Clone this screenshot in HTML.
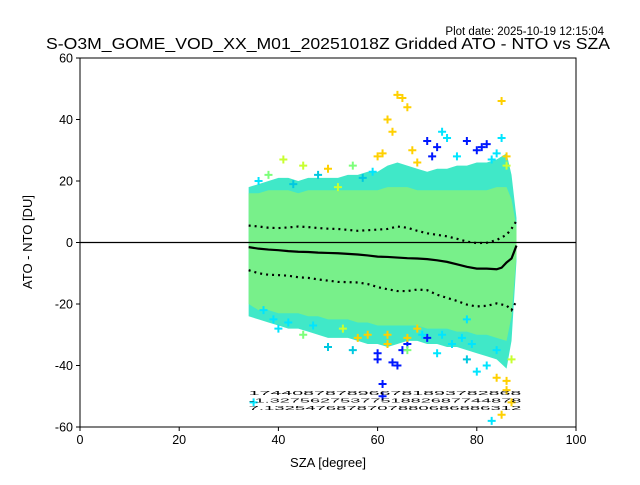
<!DOCTYPE html>
<html><head><meta charset="utf-8"><style>
body{margin:0;background:#fff;}
svg{font-family:"Liberation Sans","DejaVu Sans",sans-serif;}
</style></head><body>
<svg id="chart" width="640" height="480" viewBox="0 0 640 480">
<rect width="640" height="480" fill="#fff"/>
<text x="604" y="35" text-anchor="end" font-size="11.5">Plot date: 2025-10-19 12:15:04</text>
<text x="46" y="49" font-size="15.5" textLength="564" lengthAdjust="spacingAndGlyphs">S-O3M_GOME_VOD_XX_M01_20251018Z Gridded ATO - NTO vs SZA</text>
<g id="plot"></g>
<text x="328" y="467" text-anchor="middle" font-size="13">SZA [degree]</text>
<text transform="translate(32,242) rotate(-90)" text-anchor="middle" font-size="13">ATO - NTO [DU]</text>
</svg>
<script>
const szaBins=[34,36,38,40,42,44,46,48,50,52,54,56,58,60,62,64,66,68,70,72,74,76,78,80,82,84,86,87,88];
const outerTop=[18,19,20,21,21,20,21,21,21,21,22,22,23,23,25,26,25,24,23,24,24,25,25,26,26,27,29,22,8];
const outerBot=[-24,-25,-26,-27,-28,-28,-29,-30,-31,-31,-31,-32,-33,-33,-34,-33,-32,-32,-33,-33,-34,-34,-35,-36,-37,-38,-41,-32,-6];
const innerTop=[16,16,17,17,17,16,17,17,17,17,17,17,17,17,18,18,18,17,17,17,17,17,17,17,17,18,18,14,5];
const innerBot=[-20,-22,-22,-23,-23,-23,-24,-24,-25,-25,-25,-26,-26,-27,-27,-27,-27,-27,-28,-28,-28,-29,-29,-30,-30,-31,-32,-24,-4];
const medSza=[34,36,38,40,42,44,46,48,50,52,54,56,58,60,62,64,66,68,70,72,74,76,78,80,82,84,85,86,87,88];
const medVal=[-1.5,-2,-2.3,-2.5,-2.8,-3,-3.1,-3.3,-3.4,-3.5,-3.7,-3.9,-4.2,-4.6,-4.7,-4.9,-5.1,-5.2,-5.4,-5.8,-6.3,-7.1,-7.9,-8.5,-8.5,-8.7,-8.2,-6.5,-5.2,-1];
const upSza=[34,36,38,40,42,44,46,48,50,52,54,56,58,60,62,64,66,68,70,72,74,76,78,80,82,84,86,87,88];
const upVal=[5.5,5.2,4.8,4.7,4.9,5.2,5.0,4.7,4.5,4.4,4.1,3.8,4.0,4.2,4.4,5.2,4.8,3.8,3.0,2.5,2.0,1.2,0.3,-0.2,-0.1,0.8,2.5,4.5,7];
const loSza=[34,36,38,40,42,44,46,48,50,52,54,56,58,60,62,64,66,68,70,72,74,76,78,80,82,84,86,87,88];
const loVal=[-9,-10,-10.5,-10.6,-10.8,-11.3,-11.5,-12,-12.4,-12.8,-12.9,-13,-13.5,-14.5,-15.2,-15.8,-15.8,-15.3,-15.5,-17,-18,-19,-20.2,-20.8,-20.6,-19.8,-20.5,-22,-19];
const outX=[36,38,41,43,45,48,50,52,55,57,59,60,61,62,63,64,65,66,67,68,70,71,72,73,74,76,78,80,81,82,83,84,85,85,86,86,58,60,61,63,65,66,68,70,72,75,78,80,82,84,86,60,61,62,64,66,55,50,45,40,78,83,87,86,85,35,37,39,42,47,53,56,62,66,69,73,77,79,84,87];
const outY=[20,22,27,19,25,22,24,18,25,21,23,28,29,40,36,48,47,44,30,26,33,28,31,36,34,28,33,30,31,32,27,29,34,46,28,25,-30,-38,-46,-39,-35,-33,-28,-31,-36,-33,-38,-42,-40,-44,-48,-36,-50,-33,-40,-35,-35,-34,-30,-28,-25,-58,-52,-45,-56,-52,-22,-25,-26,-27,-28,-31,-30,-31,-30,-30,-31,-33,-35,-38,-30,23,21];
const outC=[0,1,2,3,2,3,4,2,1,3,0,4,4,4,4,4,4,4,4,4,5,5,5,0,0,0,5,5,5,5,0,0,0,4,4,2,4,5,5,5,5,5,4,5,0,0,3,0,0,4,4,5,5,4,5,1,3,3,1,0,0,0,4,4,4,0,0,0,0,0,2,4,4,4,0,0,0,0,0,2];
const palette=['#00e5ff','#7dff7a','#c8ff30','#00c8e0','#ffd000','#0018ff'];
const x0=80,x1=576,y0=58,y1=427;
const xs=v=>x0+(v-0)/100*(x1-x0);
const ys=v=>y0+(60-v)/120*(y1-y0);
const NS='http://www.w3.org/2000/svg';
const g=document.getElementById('plot');
function mk(t,a){const e=document.createElementNS(NS,t);for(const k in a)e.setAttribute(k,a[k]);g.appendChild(e);return e;}
function band(top,bot){let d='M'+szaBins.map((s,i)=>xs(s)+','+ys(top[i])).join('L');
 for(let i=szaBins.length-1;i>=0;i--)d+='L'+xs(szaBins[i])+','+ys(bot[i]);return d+'Z';}
const ob=mk('path',{d:band(outerTop,outerBot),fill:'#40e8c8'});


const ib=mk('path',{d:band(innerTop,innerBot),fill:'#78f08a'});


outX.forEach((sx,i)=>{const px=xs(sx),py=ys(outY[i]);
 const p=mk('path',{d:`M${px-4},${py}H${px+4}M${px},${py-4}V${py+4}`,stroke:palette[outC[i]],'stroke-width':2});
 
 });
const zl=mk('line',{x1:x0,x2:x1,y1:ys(0),y2:ys(0),stroke:'#000','stroke-width':1.3});


const med=mk('path',{d:'M'+medSza.map((s,i)=>xs(s)+','+ys(medVal[i])).join('L'),fill:'none',stroke:'#000','stroke-width':2.2});


[[upSza,upVal,'upper-percentile-line'],[loSza,loVal,'lower-percentile-line']].forEach(([sx,sv,n])=>{
 const l=mk('path',{d:'M'+sx.map((s,i)=>xs(s)+','+ys(sv[i])).join('L'),fill:'none',stroke:'#000','stroke-width':2.2,'stroke-dasharray':'2,4'});
 
 });
const annRows=['1744087878966781893782868','-1.3275627537751882687744878','7.1325476878707880686886312'];
annRows.forEach((r,i)=>{const t=mk('text',{x:xs(61.5),y:395+i*7.5,'text-anchor':'middle','font-size':5,textLength:(xs(89)-xs(34)),lengthAdjust:'spacingAndGlyphs'});t.textContent=r;
 
 });
const fr=mk('rect',{x:x0,y:y0,width:x1-x0,height:y1-y0,fill:'none',stroke:'#000','stroke-width':1});


const xTicks=[0,20,40,60,80,100];
const yTicks=[-60,-40,-20,0,20,40,60];
xTicks.forEach(v=>{const l=mk('line',{x1:xs(v),x2:xs(v),y1:y1,y2:y1+4,stroke:'#000'});
 
 
 const t=mk('text',{x:xs(v),y:y1+17,'text-anchor':'middle','font-size':12.5});t.textContent=v;
 
 });
yTicks.forEach(v=>{const l=mk('line',{x1:x0-4,x2:x0,y1:ys(v),y2:ys(v),stroke:'#000'});
 
 
 const t=mk('text',{x:x0-7,y:ys(v)+4.5,'text-anchor':'end','font-size':12.5});t.textContent=v;
 
 });
</script>
</body></html>
